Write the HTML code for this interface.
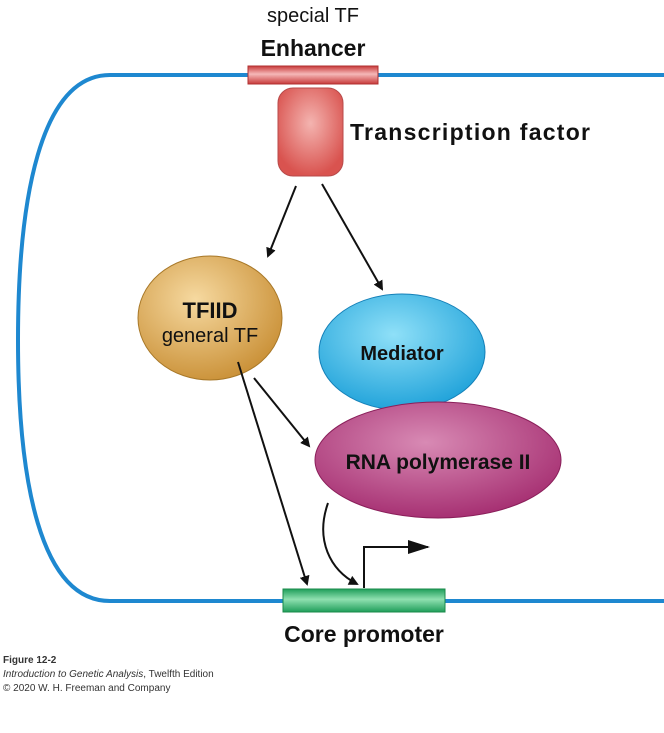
<!DOCTYPE html>
<html><head><style>
body{margin:0;width:664px;height:728px;background:#fff;overflow:hidden}
svg text{font-family:"Liberation Sans",sans-serif}
</style></head><body>
<svg width="664" height="728" viewBox="0 0 664 728">
<defs>
<radialGradient id="tf" cx="0.5" cy="0.4" r="0.6"><stop offset="0" stop-color="#f4b4b0"/><stop offset="1" stop-color="#d9534f"/></radialGradient>
<radialGradient id="tfiid" cx="0.4" cy="0.35" r="0.7"><stop offset="0" stop-color="#f6d9a0"/><stop offset="1" stop-color="#c98f35"/></radialGradient>
<radialGradient id="med" cx="0.45" cy="0.35" r="0.7"><stop offset="0" stop-color="#8fe0f8"/><stop offset="1" stop-color="#1a9fd8"/></radialGradient>
<radialGradient id="rna" cx="0.45" cy="0.35" r="0.7"><stop offset="0" stop-color="#d88ab4"/><stop offset="1" stop-color="#a32a6e"/></radialGradient>
<linearGradient id="enh" x1="0" y1="0" x2="0" y2="1"><stop offset="0" stop-color="#c83a3a"/><stop offset="0.45" stop-color="#f5b8b8"/><stop offset="1" stop-color="#c83a3a"/></linearGradient>
<linearGradient id="pro" x1="0" y1="0" x2="0" y2="1"><stop offset="0" stop-color="#1f9e5a"/><stop offset="0.45" stop-color="#8fe0b0"/><stop offset="1" stop-color="#1f9e5a"/></linearGradient>
<marker id="ah" markerWidth="10" markerHeight="10" refX="8" refY="5" orient="auto" markerUnits="userSpaceOnUse"><path d="M0,0 L10,5 L0,10 Z" fill="#111"/></marker>
<marker id="ah2" markerWidth="22" markerHeight="14" refX="20" refY="7" orient="auto" markerUnits="userSpaceOnUse"><path d="M0,0 L22,7 L0,14 Z" fill="#111"/></marker>
</defs>
<path d="M664,75 H110 C40,75 18,200 18,340 C18,480 40,601 110,601 H664" fill="none" stroke="#1e88d0" stroke-width="4"/>
<rect x="248" y="66" width="130" height="18" fill="url(#enh)" stroke="#b03030" stroke-width="1"/>
<rect x="278" y="88" width="65" height="88" rx="15" fill="url(#tf)" stroke="#b84a4a" stroke-width="1"/>
<rect x="283" y="589" width="162" height="23" fill="url(#pro)" stroke="#1a8a4a" stroke-width="1"/>
<ellipse cx="210" cy="318" rx="72" ry="62" fill="url(#tfiid)" stroke="#a87828" stroke-width="1"/>
<ellipse cx="402" cy="352" rx="83" ry="58" fill="url(#med)" stroke="#1580b8" stroke-width="1"/>
<ellipse cx="438" cy="460" rx="123" ry="58" fill="url(#rna)" stroke="#8a1f5a" stroke-width="1"/>
<g stroke="#111" stroke-width="2" fill="none">
<line x1="296" y1="186" x2="268" y2="256" marker-end="url(#ah)"/>
<line x1="322" y1="184" x2="382" y2="289" marker-end="url(#ah)"/>
<line x1="254" y1="378" x2="309" y2="446" marker-end="url(#ah)"/>
<line x1="238" y1="362" x2="307" y2="584" marker-end="url(#ah)"/>
<path d="M328,503 C315,540 330,570 357,584" marker-end="url(#ah)"/>
<path d="M364,588 V547 H428" marker-end="url(#ah2)"/>
</g>
<text x="313" y="22" font-size="20" text-anchor="middle" fill="#111">special TF</text>
<text x="313" y="56" font-size="23" font-weight="bold" text-anchor="middle" fill="#111">Enhancer</text>
<text x="350" y="140" font-size="23" font-weight="bold" fill="#111" textLength="240">Transcription factor</text>
<text x="210" y="318" font-size="22" font-weight="bold" text-anchor="middle" fill="#111">TFIID</text>
<text x="210" y="342" font-size="20" text-anchor="middle" fill="#111">general TF</text>
<text x="402" y="360" font-size="20" font-weight="bold" text-anchor="middle" fill="#111">Mediator</text>
<text x="438" y="469" font-size="21" font-weight="bold" text-anchor="middle" fill="#111">RNA polymerase II</text>
<text x="364" y="642" font-size="23" font-weight="bold" text-anchor="middle" fill="#111">Core promoter</text>
<text x="3" y="663" font-size="10" font-weight="bold" fill="#333">Figure 12-2</text>
<text x="3" y="677" font-size="10" fill="#333"><tspan font-style="italic">Introduction to Genetic Analysis</tspan>, Twelfth Edition</text>
<text x="3" y="691" font-size="10" fill="#333">© 2020 W. H. Freeman and Company</text>
</svg>
</body></html>
